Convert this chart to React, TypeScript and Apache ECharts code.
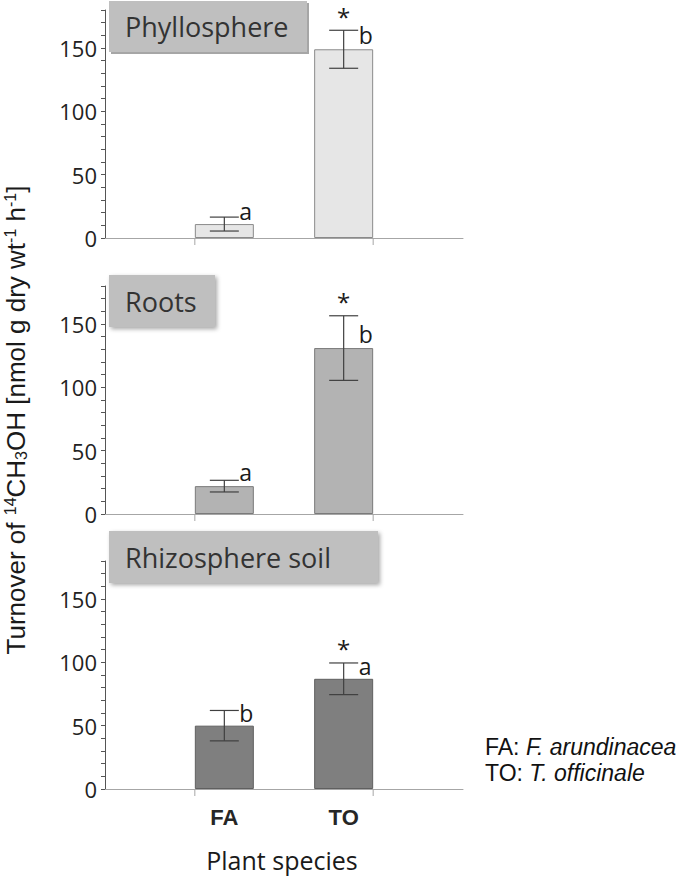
import React, { useEffect, useRef } from "react";
import * as echarts from "echarts";

// ---- data ----
const categories = ["FA", "TO"];
const panels = ["Phyllosphere", "Roots", "Rhizosphere soil"];
const phylloMean = [11, 149];
const phylloSd = [5.5, 15];
const rootsMean = [22, 131];
const rootsSd = [4.6, 25.5];
const rhizoMean = [50, 87];
const rhizoSd = [12, 12.5];
const phylloLetters = ["a", "b"];
const rootsLetters = ["a", "b"];
const rhizoLetters = ["b", "a"];
const phylloLetterY = [21.5, 160];
const rootsLetterY = [33, 142];
const rhizoLetterY = [60, 97];
const stars = ["", "*"];
const yTicksLabelled = [0, 50, 100, 150];
const yMax = 180;
const yInterval = 10;

const means = [phylloMean, rootsMean, rhizoMean];
const sds = [phylloSd, rootsSd, rhizoSd];
const letters = [phylloLetters, rootsLetters, rhizoLetters];
const letterYs = [phylloLetterY, rootsLetterY, rhizoLetterY];

const barFill = ["#e6e6e6", "#b3b3b3", "#7f7f7f"];
const barBorder = ["#8a8a8a", "#7a7a7a", "#5f5f5f"];
const gridTops = [10, 286, 561];
const gridH = 228;
const boxes = [
  { x: 109, y: 1, w: 198, h: 51 },
  { x: 109, y: 275, w: 106, h: 52 },
  { x: 109, y: 531, w: 269, h: 52 },
];

const MAL = "'Open Sans', 'Noto Sans', sans-serif";
const ARIAL = "'Liberation Sans', Arial, sans-serif";

export default function App() {
  const ref = useRef<HTMLDivElement>(null);
  useEffect(() => {
    if (!ref.current) return;
    const chart = echarts.init(ref.current, null, { renderer: "svg" });
    const grid: any[] = [];
    const xAxis: any[] = [];
    const yAxis: any[] = [];
    const series: any[] = [];
    for (let p = 0; p < 3; p++) {
      grid.push({ left: 105, right: 222, top: gridTops[p], height: gridH });
      xAxis.push({
        type: "value",
        gridIndex: p,
        min: 0,
        max: 3,
        interval: 1,
        splitLine: { show: false },
        axisTick: { show: false },
        axisLine: { show: true, lineStyle: { color: "#a6a6a6", width: 1 } },
        axisLabel: {
          show: p === 2,
          margin: 17,
          fontSize: 22,
          fontWeight: "bold",
          fontFamily: ARIAL,
          color: "#262626",
          formatter: (v: number) => (v >= 1 && v <= 2 ? categories[v - 1] : ""),
        },
      });
      yAxis.push({
        type: "value",
        gridIndex: p,
        min: 0,
        max: yMax,
        interval: yInterval,
        splitLine: { show: false },
        axisLine: { show: true, lineStyle: { color: "#555", width: 1 } },
        axisTick: { show: true, length: 4, lineStyle: { color: "#555" } },
        axisLabel: {
          fontSize: 22,
          fontFamily: MAL,
          color: "#222",
          margin: 8,
          formatter: (v: number) => (yTicksLabelled.indexOf(v) >= 0 ? String(v) : ""),
        },
      });
      series.push({
        type: "bar",
        xAxisIndex: p,
        yAxisIndex: p,
        barWidth: 59,
        data: means[p].map((m, i) => [i + 1, m]),
        itemStyle: { color: barFill[p], borderColor: barBorder[p], borderWidth: 1 },
      });
      const pi = p;
      series.push({
        type: "custom",
        xAxisIndex: p,
        yAxisIndex: p,
        clip: false,
        z: 5,
        data: means[p].map((m, i) => [i + 1, m - sds[p][i], m + sds[p][i]]),
        renderItem: (params: any, api: any) => {
          const i = params.dataIndex;
          const x = api.value(0);
          const lo = api.coord([x, api.value(1)]);
          const hi = api.coord([x, api.value(2)]);
          const base = api.coord([x, 0]);
          const lt = api.coord([x, letterYs[pi][i]]);
          const cx = base[0];
          const lineStyle = { stroke: "#404040", lineWidth: 1.2 };
          const tickX = i === 0 ? cx - 29.5 : cx + 29.5;
          const children: any[] = [
            { type: "line", shape: { x1: cx, y1: lo[1], x2: cx, y2: hi[1] }, style: lineStyle },
            { type: "line", shape: { x1: cx - 14.5, y1: lo[1], x2: cx + 14.5, y2: lo[1] }, style: lineStyle },
            { type: "line", shape: { x1: cx - 14.5, y1: hi[1], x2: cx + 14.5, y2: hi[1] }, style: lineStyle },
            { type: "line", shape: { x1: tickX, y1: base[1], x2: tickX, y2: base[1] + 7 }, style: { stroke: "#a6a6a6", lineWidth: 1 } },
            {
              type: "text",
              x: cx + 15,
              y: lt[1],
              style: {
                text: letters[pi][i],
                fontSize: 23,
                fontFamily: MAL,
                fill: "#1a1a1a",
                align: "left",
                verticalAlign: "middle",
              },
            },
          ];
          if (stars[i]) {
            children.push({
              type: "text",
              x: cx,
              y: hi[1] - 14,
              style: {
                text: stars[i],
                fontSize: 24,
                fontFamily: MAL,
                fill: "#1a1a1a",
                align: "center",
                verticalAlign: "middle",
              },
            });
          }
          return { type: "group", children };
        },
      });
    }

    const graphic: any[] = [];
    boxes.forEach((b, p) => {
      graphic.push({
        type: "rect",
        shape: { x: b.x, y: b.y, width: b.w, height: b.h },
        style: {
          fill: "#bfbfbf",
          shadowBlur: p === 0 ? 0 : 4,
          shadowOffsetX: 2,
          shadowOffsetY: 2,
          shadowColor: "rgba(0,0,0,0.35)",
        },
        z: 10,
      });
      graphic.push({
        type: "text",
        x: b.x + 16,
        y: b.y + b.h / 2,
        z: 11,
        style: {
          text: panels[p],
          fontSize: 27,
          fontFamily: MAL,
          fill: "#333",
          align: "left",
          verticalAlign: "middle",
        },
      });
    });
    graphic.push({
      type: "text",
      x: 16,
      y: 420,
      rotation: Math.PI / 2,
      z: 11,
      style: {
        text: "{n|Turnover of }{sup|14}{n|CH}{sub|3}{n|OH [nmol g dry wt}{sup|-1}{n| h}{sup|-1}{n|]}",
        align: "center",
        verticalAlign: "middle",
        fill: "#1a1a1a",
        rich: {
          n: { fontSize: 26, fontFamily: ARIAL, lineHeight: 27, fill: "#1a1a1a" },
          sup: { fontSize: 16, fontFamily: ARIAL, lineHeight: 13, verticalAlign: "top", fill: "#1a1a1a" },
          sub: { fontSize: 16, fontFamily: ARIAL, lineHeight: 14, verticalAlign: "bottom", fill: "#1a1a1a" },
        },
      },
    });
    graphic.push({
      type: "text",
      x: 282,
      y: 860,
      style: {
        text: "Plant species",
        fontSize: 25,
        fontFamily: MAL,
        fill: "#1a1a1a",
        align: "center",
        verticalAlign: "middle",
      },
    });
    graphic.push({
      type: "text",
      x: 485,
      y: 747,
      style: {
        text: "{n|FA: }{i|F. arundinacea}",
        verticalAlign: "middle",
        rich: {
          n: { fontSize: 23, fontFamily: ARIAL, fill: "#111" },
          i: { fontSize: 23, fontFamily: ARIAL, fontStyle: "italic", fill: "#111" },
        },
      },
    });
    graphic.push({
      type: "text",
      x: 485,
      y: 773,
      style: {
        text: "{n|TO: }{i|T. officinale}",
        verticalAlign: "middle",
        rich: {
          n: { fontSize: 23, fontFamily: ARIAL, fill: "#111" },
          i: { fontSize: 23, fontFamily: ARIAL, fontStyle: "italic", fill: "#111" },
        },
      },
    });

    chart.setOption({
      animation: false,
      backgroundColor: "#ffffff",
      grid,
      xAxis,
      yAxis,
      series,
      graphic,
    });
    return () => chart.dispose();
  }, []);
  return <div ref={ref} style={{ width: 685, height: 876, position: "absolute", left: 0, top: 0 }} />;
}
